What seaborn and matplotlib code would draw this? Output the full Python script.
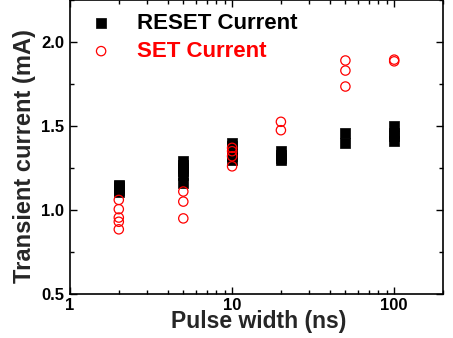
import matplotlib
matplotlib.use("Agg")
import matplotlib.pyplot as plt
import seaborn as sns
import pandas as pd
from matplotlib.ticker import FixedLocator, NullFormatter, LogLocator

sns.set_theme(style="ticks")
plt.rcParams['font.family'] = 'Liberation Sans'
plt.rcParams['font.weight'] = 'bold'

# Data
reset_x = [2, 2, 2, 2, 2,
           5, 5, 5, 5, 5, 5,
           10, 10, 10, 10, 10,
           20, 20, 20, 20,
           50, 50,
           100, 100, 100, 100]
reset_y = [1.15, 1.14, 1.13, 1.12, 1.11,
           1.29, 1.27, 1.25, 1.23, 1.21, 1.16,
           1.40, 1.38, 1.35, 1.32, 1.30,
           1.35, 1.33, 1.31, 1.30,
           1.46, 1.40,
           1.50, 1.46, 1.44, 1.41]
set_x = [2, 2, 2, 2, 2,
         5, 5, 5,
         10, 10, 10, 10,
         20, 20,
         50, 50, 50,
         100, 100]
set_y = [1.06, 1.005, 0.955, 0.93, 0.885,
         1.11, 1.05, 0.95,
         1.37, 1.35, 1.32, 1.26,
         1.525, 1.475,
         1.89, 1.83, 1.735,
         1.895, 1.885]
labels = ["RESET Current", "SET Current"]
x_ticks = [1, 10, 100]
x_tick_labels = ["1", "10", "100"]
y_ticks = [0.5, 1.0, 1.5, 2.0]

df_reset = pd.DataFrame({"x": reset_x, "y": reset_y})
df_set = pd.DataFrame({"x": set_x, "y": set_y})

fig = plt.figure(figsize=(4.53, 3.38), dpi=100)
ax = fig.add_axes([70/453, 44/338, 373/453, 294/338])

sns.scatterplot(data=df_reset, x="x", y="y", ax=ax, marker="s", s=45,
                color="black", edgecolor="black", linewidth=0.5, label=labels[0])
sns.scatterplot(data=df_set, x="x", y="y", ax=ax, marker="o", s=45,
                facecolors="none", edgecolor="red", linewidth=0.9, label=labels[1])

ax.set_xscale("log")
ax.set_xlim(1, 200)
ax.set_ylim(0.5, 2.25)
ax.set_xticks(x_ticks)
ax.set_xticklabels(x_tick_labels)
ax.xaxis.set_minor_locator(LogLocator(base=10, subs=range(2, 10)))
ax.xaxis.set_minor_formatter(NullFormatter())
ax.set_yticks(y_ticks)
ax.set_yticklabels([f"{v:.1f}" for v in y_ticks])
ax.yaxis.set_minor_locator(FixedLocator([0.75, 1.25, 1.75, 2.25]))

ax.tick_params(which="both", direction="in", top=True, right=True, width=1, colors="black")
ax.tick_params(which="major", length=5, labelsize=12)
ax.tick_params(axis="x", which="major", pad=3)
ax.tick_params(axis="y", which="major", pad=4)
ax.tick_params(which="minor", length=3)
for lab in ax.get_xticklabels() + ax.get_yticklabels():
    lab.set_fontweight("bold")
for sp in ax.spines.values():
    sp.set_linewidth(1.2)
    sp.set_color("black")

ax.set_xlabel("Pulse width (ns)", fontsize=16.5, fontweight="bold")
ax.set_ylabel("Transient current (mA)", fontsize=17, fontweight="bold")
ax.yaxis.set_label_coords(-0.09, 0.47)
ax.xaxis.set_label_coords(0.505, -0.056)

leg = ax.legend(loc="upper left", bbox_to_anchor=(0.0, 0.985), frameon=False,
                handletextpad=0.6, borderaxespad=0, labelspacing=0.3,
                prop={"weight": "bold", "size": 16})
for txt, c in zip(leg.get_texts(), ["black", "red"]):
    txt.set_color(c)

fig.savefig("out.png", dpi=100)
